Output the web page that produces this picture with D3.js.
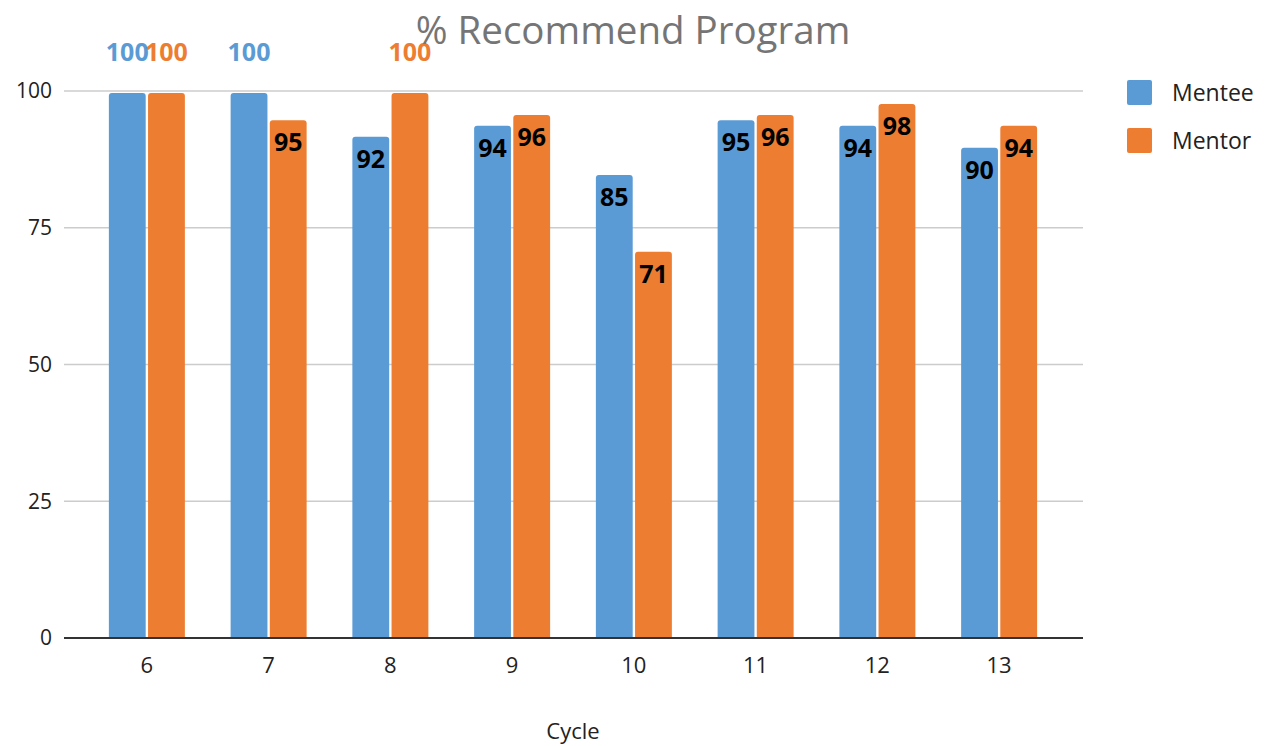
<!DOCTYPE html>
<html><head><meta charset="utf-8">
<script src="https://cdn.jsdelivr.net/npm/d3@7/dist/d3.min.js"></script>
<style>body{margin:0;background:#fff;}svg{display:block;font-family:"Open Sans",sans-serif;}</style>
</head><body>
<svg id="c" width="1268" height="746"></svg>
<script>
const categories = ["6","7","8","9","10","11","12","13"];
const mentee = [100,100,92,94,85,95,94,90];
const mentor = [100,95,100,96,71,96,98,94];
const seriesNames = ["Mentee","Mentor"];
const colors = ["#5b9bd5","#ed7d31"];
const yTicks = [0,25,50,75,100];

const svg = d3.select("#c");
const x = d3.scaleBand().domain(categories).range([86,1060]);
const y = d3.scaleLinear().domain([0,100]).range([638,91]);
const sub = d3.scaleBand().domain(seriesNames).range([-38,38]).paddingInner(0.06);

// gridlines
svg.append("g").selectAll("line").data(yTicks.filter(d=>d>0)).join("line")
  .attr("x1",64).attr("x2",1083).attr("y1",d=>y(d)).attr("y2",d=>y(d))
  .attr("stroke","#cccccc").attr("stroke-width",1.5);

// y labels
svg.append("g").selectAll("text").data(yTicks).join("text")
  .attr("x",52).attr("y",d=>y(d)).attr("dy","0.35em").attr("text-anchor","end")
  .attr("font-size",21).attr("fill","#222").text(d=>d);

const data = [mentee, mentor];
function barPath(x0,w,yt,yb,r){
  r=Math.min(r,yb-yt);
  return `M${x0},${yb}V${yt+r}Q${x0},${yt} ${x0+r},${yt}H${x0+w-r}Q${x0+w},${yt} ${x0+w},${yt+r}V${yb}Z`;
}
seriesNames.forEach((s,si)=>{
  const g = svg.append("g");
  g.selectAll("path").data(categories).join("path")
    .attr("d",(c,i)=>barPath(x(c)+x.bandwidth()/2+sub(s), sub.bandwidth(), y(data[si][i])+2, y(0), 3))
    .attr("fill",colors[si]);
});
// labels
seriesNames.forEach((s,si)=>{
  const g = svg.append("g");
  g.selectAll("text").data(categories).join("text")
    .attr("x",(c,i)=>x(c)+x.bandwidth()/2+sub(s)+sub.bandwidth()/2)
    .attr("y",(c,i)=>data[si][i]>=100 ? 61 : y(data[si][i])+33)
    .attr("text-anchor","middle").attr("font-size",25).attr("font-weight","bold")
    .attr("fill",(c,i)=>data[si][i]>=100 ? colors[si] : "#000")
    .text((c,i)=>data[si][i]);
});

// axis line
svg.append("line").attr("x1",64).attr("x2",1083).attr("y1",y(0)).attr("y2",y(0))
  .attr("stroke","#333").attr("stroke-width",2);

// x labels
svg.append("g").selectAll("text").data(categories).join("text")
  .attr("x",c=>x(c)+x.bandwidth()/2).attr("y",673).attr("text-anchor","middle")
  .attr("font-size",22).attr("fill","#222").text(c=>c);

svg.append("text").attr("x",573).attr("y",739).attr("text-anchor","middle")
  .attr("font-size",22).attr("fill","#222").text("Cycle");

svg.append("text").attr("x",633).attr("y",44).attr("text-anchor","middle")
  .attr("font-size",38.5).attr("fill","#757575").text("% Recommend Program");

// legend
const lg = svg.append("g").selectAll("g").data(seriesNames).join("g")
  .attr("transform",(d,i)=>`translate(1127,${80+i*48})`);
lg.append("rect").attr("width",25).attr("height",25).attr("rx",2).attr("fill",(d,i)=>colors[i]);
lg.append("text").attr("x",45).attr("y",13).attr("dy","0.35em").attr("font-size",23).attr("fill","#222").text(d=>d);
</script>
</body></html>
